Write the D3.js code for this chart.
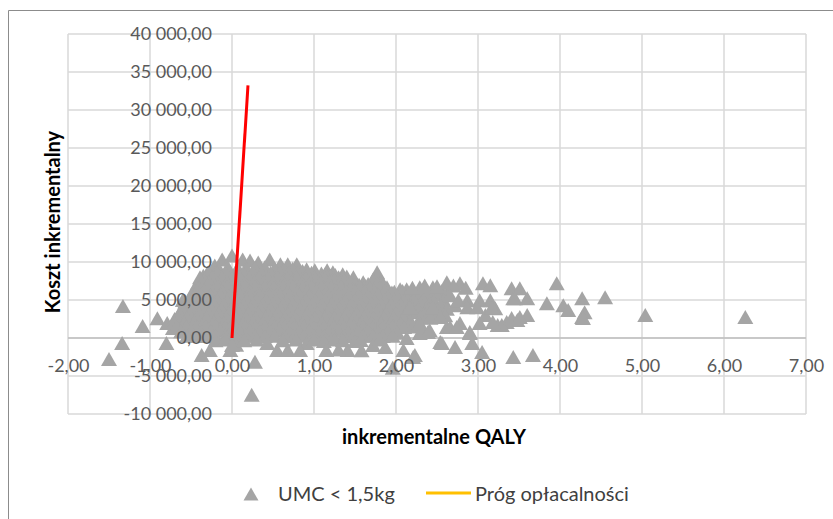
<!DOCTYPE html>
<meta charset="utf-8">
<style>
body { margin: 0; background: #fff; }
text { font-family: Lato, "Open Sans", sans-serif; }
.tick text { fill: #595959; font-size: 18px; }
.title { font-weight: bold; font-size: 20px; fill: #000; }
.legend text { font-size: 20px; fill: #404040; }
</style>
<body>
<script src="https://d3js.org/d3.v7.min.js"></script>
<div id="draw"></div>
<script>

var xTicks = [-2, -1, 0, 1, 2, 3, 4, 5, 6, 7];
var yTicks = [-10000, -5000, 0, 5000, 10000, 15000, 20000, 25000, 30000, 35000, 40000];

// [inkrementalne QALY, koszt inkrementalny]
var umcPoints = [
  // left tail
  [-1.50,-2750],[-1.34,-650],[-1.33,4200],[-1.09,1570],[-0.91,2600],[-0.80,-650],[-0.79,1960],
  [-0.37,-2230],[-0.02,-1570],[-0.27,-1570],[-0.72,1300],[-0.70,2500],[-0.63,3500],[-0.57,4800],
  [-0.50,5700],[-0.45,6500],[-0.41,7400],[-0.35,8200],[-0.30,8600],[-0.55,900],
  // top edge of the cloud
  [-0.39,8000],[-0.30,8250],[-0.21,9550],[-0.12,10340],[0.00,10860],[0.13,10340],[0.22,10200],
  [0.32,9950],[0.46,10340],[0.59,9690],[0.68,9690],[0.79,9690],[0.91,9030],[1.01,8900],[1.16,8900],
  [1.23,8640],[1.35,8380],[1.48,7985],[1.60,7330],[1.77,8640],[1.89,6680],[2.05,6410],[2.13,6410],
  [2.29,6680],[2.45,6680],
  // cloud body
  [-0.16,9160],[-0.05,9300],[0.07,9200],[0.18,9100],[0.28,9250],[0.40,9300],[0.52,9150],[0.63,9000],
  [0.74,9100],[0.86,8800],[0.97,8600],[1.09,8500],[1.20,8200],[1.30,8000],
  [-0.28,8600],[-0.18,8600],[-0.08,8700],[0.04,8600],[0.14,8600],[0.25,8700],[0.36,8600],[0.47,8600],
  [0.58,8700],[0.69,8600],[0.80,8600],[0.92,8500],[1.03,8400],[1.14,8500],[1.26,8300],[1.40,8100],
  [-0.34,7700],[-0.24,8000],[-0.12,8000],[0.00,7900],[0.10,8000],[0.21,7950],[0.33,8000],[0.44,7900],
  [0.56,8000],[0.67,7900],[0.79,8000],[0.90,7900],[1.02,7800],[1.13,7900],[1.25,7700],[1.37,7600],
  [1.50,7100],[1.62,6900],[1.72,7700],[1.82,7500],
  [-0.37,7400],[-0.28,7400],[-0.18,7300],[-0.06,7400],[0.05,7400],[0.16,7300],[0.27,7400],[0.39,7400],
  [0.50,7300],[0.62,7400],[0.73,7400],[0.85,7300],[0.96,7400],[1.08,7400],[1.19,7300],[1.31,7300],
  [1.43,7200],[1.55,7000],[1.66,7100],[1.77,7200],[1.85,7000],
  [-0.40,6600],[-0.30,6900],[-0.18,6800],[-0.06,6800],[0.05,6700],[0.16,6800],[0.28,6800],[0.40,6800],
  [0.51,6700],[0.62,6800],[0.74,6800],[0.86,6700],[0.97,6800],[1.09,6800],[1.21,6700],[1.33,6800],
  [1.44,6600],[1.56,6700],[1.68,6600],[1.80,6500],[1.95,6000],
  [-0.43,6200],[-0.34,6200],[-0.24,6100],[-0.12,6200],[0.00,6200],[0.11,6100],[0.22,6200],[0.34,6200],
  [0.46,6100],[0.57,6200],[0.68,6200],[0.80,6100],[0.92,6200],[1.03,6200],[1.15,6100],[1.27,6200],
  [1.39,6200],[1.50,6100],[1.62,6200],[1.74,6100],[1.86,6200],[1.98,6100],[2.08,6200],[2.20,6100],
  [2.32,6200],[2.44,6100],[2.56,6200],
  [-0.46,5500],[-0.38,5800],[-0.26,5600],[-0.14,5700],[-0.02,5600],[0.10,5700],[0.22,5600],[0.34,5700],
  [0.46,5600],[0.58,5700],[0.70,5600],[0.82,5700],[0.94,5600],[1.06,5700],[1.18,5600],[1.30,5700],
  [1.42,5600],[1.54,5700],[1.66,5600],[1.78,5700],[1.90,5500],[2.01,5600],[2.12,5500],[2.24,5700],
  [2.36,5600],[2.50,5700],[2.62,5900],
  [-0.60,5000],[-0.52,5000],[-0.41,4900],[-0.30,5000],[-0.18,5000],[-0.06,4900],[0.06,5000],[0.18,5000],
  [0.30,4900],[0.42,5000],[0.54,5000],[0.66,4900],[0.78,5000],[0.90,5000],[1.02,4900],[1.14,5000],
  [1.26,5000],[1.38,4900],[1.50,5000],[1.62,5000],[1.74,4900],[1.86,5000],[1.98,5000],[2.10,4900],
  [2.22,5000],[2.34,5000],[2.46,4900],[2.58,5000],
  [-0.56,4400],[-0.46,4500],[-0.34,4400],[-0.22,4500],[-0.10,4400],[0.02,4500],[0.14,4400],[0.26,4500],
  [0.38,4400],[0.50,4500],[0.62,4400],[0.74,4500],[0.86,4400],[0.98,4500],[1.10,4400],[1.22,4500],
  [1.34,4400],[1.46,4500],[1.58,4400],[1.70,4500],[1.82,4400],[1.94,4500],[2.06,4400],[2.18,4300],
  [2.30,4500],[2.41,4580],[2.54,4320],[2.72,4320],[2.87,4970],
  [-0.60,3850],[-0.49,3850],[-0.37,3800],[-0.25,3850],[-0.13,3850],[-0.01,3800],[0.11,3850],[0.23,3850],
  [0.35,3800],[0.47,3850],[0.59,3850],[0.71,3800],[0.83,3850],[0.95,3850],[1.07,3800],[1.19,3850],
  [1.31,3850],[1.43,3800],[1.55,3850],[1.67,3850],[1.79,3800],[1.91,3850],[2.03,3850],[2.15,3800],
  [2.27,3850],[2.40,3850],[2.50,3800],[2.62,3850],
  [-0.64,3300],[-0.52,3200],[-0.40,3300],[-0.28,3200],[-0.16,3300],[-0.04,3200],[0.08,3300],[0.20,3200],
  [0.32,3300],[0.44,3200],[0.56,3300],[0.68,3200],[0.80,3300],[0.92,3200],[1.04,3300],[1.16,3200],
  [1.28,3300],[1.40,3200],[1.52,3300],[1.64,3200],[1.76,3300],[1.88,3200],[2.00,3300],[2.12,3200],
  [2.22,3400],[2.34,3100],[2.46,3300],[2.60,3000],
  [-0.66,2700],[-0.55,2700],[-0.43,2650],[-0.31,2700],[-0.19,2700],[-0.07,2650],[0.05,2700],[0.17,2700],
  [0.29,2650],[0.41,2700],[0.53,2700],[0.65,2650],[0.77,2700],[0.89,2700],[1.01,2650],[1.13,2700],
  [1.25,2700],[1.37,2650],[1.49,2700],[1.61,2700],[1.73,2650],[1.85,2700],[1.97,2700],[2.09,2650],
  [2.30,2700],[2.42,2650],
  [-0.70,2100],[-0.58,2000],[-0.46,2100],[-0.34,2000],[-0.22,2100],[-0.10,2000],[0.02,2100],[0.14,2000],
  [0.26,2100],[0.38,2000],[0.50,2100],[0.62,2000],[0.74,2100],[0.86,2000],[0.98,2100],[1.10,2000],
  [1.22,2100],[1.34,2000],[1.46,2100],[1.58,2000],[1.70,2100],[1.82,2000],[1.94,2100],[2.06,1900],
  [2.18,2200],[2.28,1800],
  [-0.68,1500],[-0.56,1500],[-0.44,1450],[-0.32,1500],[-0.20,1500],[-0.08,1450],[0.04,1500],[0.16,1500],
  [0.28,1450],[0.40,1500],[0.52,1500],[0.64,1450],[0.76,1500],[0.88,1500],[1.00,1450],[1.12,1500],
  [1.24,1500],[1.36,1450],[1.48,1500],[1.60,1500],[1.72,1450],[1.84,1500],[1.96,1500],[2.10,1450],
  [2.20,1500],
  [-0.62,900],[-0.50,1000],[-0.38,800],[-0.26,900],[-0.14,1000],[-0.02,800],[0.10,900],[0.22,1000],
  [0.34,800],[0.46,900],[0.58,1000],[0.70,800],[0.82,900],[0.94,1000],[1.06,800],[1.18,900],
  [1.30,1000],[1.42,800],[1.54,900],[1.66,1000],[1.78,800],[1.90,900],[2.02,700],
  [-0.55,300],[-0.44,300],[-0.32,250],[-0.20,300],[-0.08,300],[0.04,250],[0.16,300],[0.28,300],
  [0.40,250],[0.52,300],[0.64,300],[0.76,250],[0.88,300],[1.00,300],[1.12,250],[1.24,300],
  [1.36,300],[1.48,250],[1.60,300],[1.72,300],[1.84,250],[1.96,300],
  // bottom of the cloud
  [-0.20,-300],[-0.08,-200],[0.05,-900],[0.15,-300],[0.30,-200],[0.43,-650],[0.55,-1570],[0.68,-1570],
  [0.62,-300],[0.78,-200],[0.91,-650],[1.00,-200],[1.12,-400],[1.25,-200],[1.41,-1570],[1.35,-300],
  [1.50,-400],[1.57,-260],[1.72,-920],[1.87,-1180],[1.80,-200],[1.96,-3930],[2.09,-1570],[2.23,-2230],
  [2.13,0],[2.54,-520],[2.33,1050],[2.62,1440],[0.28,-3140],[0.24,-7460],[0.00,-920],[0.83,-1570],
  [1.15,-1570],[1.30,-1500],[1.58,-1600],
  // right part
  [2.62,7330],[2.78,7200],[3.06,7200],[3.15,6940],[3.41,6545],[3.51,6545],[3.96,7200],[4.27,5240],
  [4.55,5370],[3.84,4580],[4.04,4320],[4.10,3670],[4.27,2750],[4.30,3400],[5.04,3010],[6.26,2750],
  [3.60,5240],[3.43,5240],[3.60,3010],[3.48,2360],[3.35,2090],[3.24,1700],[3.21,3930],[3.15,4970],
  [3.02,4970],[3.02,1960],[2.90,655],[2.93,-650],[3.05,-1830],[2.72,-1180],[2.56,-650],[2.39,785],
  [2.29,655],[2.21,-2490],[3.43,-2500],[3.67,-2230],[2.78,1960],[2.66,1440],[3.29,1700],[3.41,2620],
  [3.51,2750],[3.45,5240],[4.28,2620],
  [2.20,6600],[2.35,6900],[2.50,6800],[2.70,6900],[2.85,6600],[2.66,5630],[2.76,4970],[2.87,4060],
  [2.99,4060],[3.09,3010],[3.17,4060],[2.17,4060],[2.45,4060],[2.54,2750],[2.74,1440],[2.29,1960],
  [2.41,1050],[2.90,785],[3.18,2090]
];

var thresholdLine = [[0, 0], [0.195, 33250]];

var legendLabels = ["UMC < 1,5kg", "Próg opłacalności"];

var width = 833, height = 519;
var plot = {left: 68, right: 806, top: 34, bottom: 414};

var x = d3.scaleLinear().domain([-2, 7]).range([plot.left, plot.right]);
var y = d3.scaleLinear().domain([-10000, 40000]).range([plot.bottom, plot.top]);

var pl = d3.formatLocale({decimal: ",", thousands: "\u00a0", grouping: [3], currency: ["", ""], minus: "-"});
var fmt = pl.format(",.2f");

var svg = d3.select("#draw").append("svg")
    .attr("width", width)
    .attr("height", height);

svg.append("rect").attr("width", width).attr("height", height).attr("fill", "#fff");

// chart border (only top and left visible)
svg.append("path")
    .attr("d", "M8.5," + height + "V10.5H" + width)
    .attr("fill", "none")
    .attr("stroke", "#8c8c8c")
    .attr("stroke-width", 1);

var grid = svg.append("g");
grid.selectAll(".gx")
    .data(xTicks)
  .enter().append("line")
    .attr("x1", function(d) { return x(d); })
    .attr("x2", function(d) { return x(d); })
    .attr("y1", plot.top)
    .attr("y2", plot.bottom)
    .attr("stroke", "#d9d9d9")
    .attr("stroke-width", 1.5);
grid.selectAll(".gy")
    .data(yTicks)
  .enter().append("line")
    .attr("x1", plot.left)
    .attr("x2", plot.right)
    .attr("y1", function(d) { return y(d); })
    .attr("y2", function(d) { return y(d); })
    .attr("stroke", "#d9d9d9")
    .attr("stroke-width", 1.5);

// horizontal axis line at 0
svg.append("line")
    .attr("x1", plot.left).attr("x2", plot.right)
    .attr("y1", y(0)).attr("y2", y(0))
    .attr("stroke", "#bfbfbf")
    .attr("stroke-width", 1.5);

function triangle(w, h) {
  return "M0," + (-h / 2) + "L" + (w / 2) + "," + (h / 2) + "L" + (-w / 2) + "," + (h / 2) + "Z";
}

svg.append("g").selectAll("path")
    .data(umcPoints)
  .enter().append("path")
    .attr("d", triangle(16, 14))
    .attr("transform", function(d) { return "translate(" + x(d[0]) + "," + y(d[1]) + ")"; })
    .attr("fill", "#a5a5a5");

svg.append("path")
    .datum(thresholdLine)
    .attr("d", d3.line().x(function(d) { return x(d[0]); }).y(function(d) { return y(d[1]); }))
    .attr("fill", "none")
    .attr("stroke", "#ff0000")
    .attr("stroke-width", 3);

var yAxis = d3.axisLeft(y).tickValues(yTicks).tickFormat(fmt).tickSize(0).tickPadding(20);
var xAxis = d3.axisBottom(x).tickValues(xTicks).tickFormat(fmt).tickSize(0).tickPadding(21);

svg.append("g")
    .attr("transform", "translate(0," + y(0) + ")")
    .call(xAxis)
    .call(function(g) { g.select(".domain").remove(); })
    .selectAll("text").attr("font-family", null).attr("font-size", null);

svg.append("g")
    .attr("transform", "translate(" + x(0) + ",0)")
    .call(yAxis)
    .call(function(g) { g.select(".domain").remove(); })
    .selectAll("text").attr("font-family", null).attr("font-size", null);

svg.append("text")
    .attr("class", "title")
    .attr("transform", "translate(60,222) rotate(-90)")
    .attr("text-anchor", "middle")
    .text("Koszt inkrementalny");

svg.append("text")
    .attr("class", "title")
    .attr("x", 434)
    .attr("y", 444)
    .attr("text-anchor", "middle")
    .text("inkrementalne QALY");

var legend = svg.append("g").attr("class", "legend");
legend.append("path")
    .attr("d", triangle(15, 13))
    .attr("transform", "translate(251,494)")
    .attr("fill", "#a5a5a5");
legend.append("text")
    .attr("x", 278)
    .attr("y", 501)
    .text(legendLabels[0]);
legend.append("line")
    .attr("x1", 426).attr("x2", 471)
    .attr("y1", 493).attr("y2", 493)
    .attr("stroke", "#ffc000")
    .attr("stroke-width", 3);
legend.append("text")
    .attr("x", 475)
    .attr("y", 501)
    .text(legendLabels[1]);

</script>
